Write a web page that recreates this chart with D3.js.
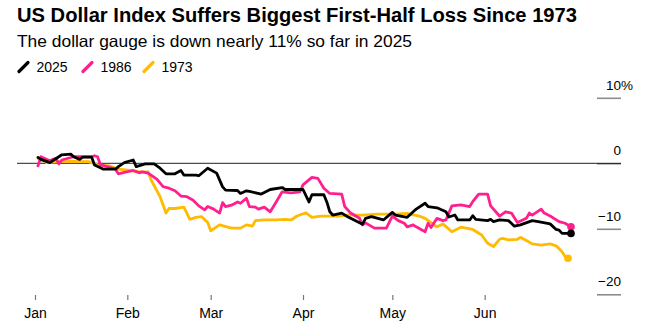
<!DOCTYPE html>
<html>
<head>
<meta charset="utf-8">
<script src="https://cdn.jsdelivr.net/npm/d3@7"></script>
<style>
  html, body { margin: 0; padding: 0; background: #fff; }
  svg { display: block; font-family: "Liberation Sans", Arial, Helvetica, sans-serif; }
</style>
</head>
<body>
<svg id="chart" width="650" height="335"></svg>
<script>
// Dollar index change since the start of the year, % (each year mapped onto the 2025 calendar)
const dates2025 = ["01-02","01-03","01-06","01-09","01-10","01-13","01-14","01-16","01-17","01-20","01-21","01-24","01-28","01-29","01-31","02-03","02-04","02-07","02-10","02-12","02-14","02-17","02-19","02-20","02-24","02-25","02-28","03-03","03-05","03-06","03-10","03-11","03-13","03-14","03-18","03-21","03-25","03-26","03-28","04-01","04-03","04-04","04-08","04-09","04-10","04-11","04-14","04-16","04-21","04-22","04-24","04-28","05-01","05-02","05-06","05-08","05-09","05-12","05-13","05-16","05-19","05-20","05-22","05-23","05-27","05-28","05-29","06-02","06-03","06-04","06-06","06-09","06-11","06-13","06-17","06-19","06-23","06-25","06-26","06-27","06-30"];
const values2025 = [0.9,0.6,0.1,1.0,1.3,1.4,1.0,0.6,0.95,0.95,-0.25,-0.9,-0.9,-0.5,0.1,0.5,-0.5,-0.1,-0.1,-0.75,-1.6,-1.6,-1.1,-1.8,-1.8,-1.9,-0.75,-1.5,-3.6,-4.1,-4.15,-4.6,-4.2,-4.3,-4.7,-4.0,-3.7,-4.0,-4.0,-4.0,-5.9,-4.8,-4.8,-5.9,-7.4,-7.9,-7.6,-8.15,-9.3,-8.4,-8.15,-8.65,-7.5,-7.9,-8.25,-7.4,-7.0,-6.1,-6.6,-6.8,-7.4,-8.2,-7.9,-8.65,-8.65,-8.0,-8.55,-8.75,-8.55,-8.9,-8.65,-8.75,-9.6,-9.4,-8.75,-8.9,-9.25,-10.1,-10.2,-10.7,-10.7];

const dates1986 = ["01-02","01-03","01-06","01-08","01-09","01-10","01-14","01-17","01-20","01-21","01-22","01-23","01-26","01-28","01-29","01-31","02-03","02-05","02-06","02-08","02-11","02-13","02-15","02-17","02-19","02-21","02-23","02-25","02-27","02-28","03-02","03-04","03-05","03-06","03-08","03-10","03-11","03-13","03-14","03-16","03-17","03-19","03-21","03-23","03-25","03-28","03-31","04-01","04-04","04-06","04-08","04-10","04-14","04-15","04-17","04-20","04-21","04-22","04-25","04-29","05-01","05-03","05-05","05-06","05-08","05-09","05-12","05-13","05-14","05-16","05-18","05-19","05-21","05-24","05-27","05-28","05-30","06-02","06-03","06-06","06-08","06-10","06-12","06-15","06-16","06-17","06-20","06-21","06-23","06-26","06-28","06-30"];
const values1986 = [-0.4,1.0,0.4,0.75,-0.1,0.5,1.0,1.0,1.0,1.15,1.0,-0.25,-0.6,-0.9,-1.6,-1.4,-1.1,-1.45,-1.3,-1.5,-2.45,-3.55,-3.8,-4.2,-5.0,-5.1,-5.6,-6.5,-7.1,-6.6,-7.0,-7.6,-6.0,-6.6,-6.4,-5.9,-6.1,-5.35,-6.6,-6.7,-7.0,-6.7,-7.4,-5.9,-4.35,-4.5,-4.35,-3.3,-2.15,-2.3,-3.8,-4.6,-4.7,-6.6,-7.6,-8.4,-9.4,-9.1,-9.9,-9.9,-8.05,-8.75,-9.15,-9.7,-9.4,-9.7,-10.45,-9.15,-9.8,-8.4,-8.75,-8.65,-6.5,-6.35,-6.6,-5.85,-4.7,-4.7,-6.5,-8.05,-7.4,-7.6,-9.05,-8.4,-7.6,-7.9,-7.0,-7.6,-8.05,-8.9,-9.15,-9.7];

const dates1973 = ["01-02","01-05","01-09","01-14","01-19","01-22","01-26","01-29","02-02","02-05","02-08","02-09","02-12","02-14","02-15","02-17","02-20","02-22","02-24","02-26","02-28","03-01","03-04","03-08","03-11","03-13","03-15","03-16","03-19","03-23","03-26","03-28","03-30","04-02","04-04","04-07","04-13","04-16","04-21","04-26","05-02","05-06","05-10","05-12","05-14","05-16","05-18","05-21","05-24","05-28","05-31","06-02","06-04","06-06","06-07","06-09","06-12","06-13","06-15","06-17","06-20","06-23","06-25","06-27","06-28","06-29"];
const values1973 = [0.75,0.1,0.25,0.3,0.25,-0.25,-0.4,-0.9,-1.1,-1.3,-1.3,-2.55,-5.1,-7.6,-6.9,-6.9,-6.7,-8.55,-8.25,-8.15,-9.05,-10.3,-9.4,-9.9,-9.9,-9.4,-9.6,-8.75,-8.65,-8.65,-8.55,-8.65,-8.05,-7.55,-8.25,-8.05,-8.05,-7.9,-7.9,-7.75,-7.75,-7.65,-8.05,-8.4,-9.05,-9.7,-9.25,-10.45,-9.75,-10.1,-10.95,-12.2,-12.7,-11.6,-11.45,-11.7,-11.6,-11.3,-11.8,-12.3,-12.5,-12.3,-12.6,-13.5,-14.25,-14.5];

const seriesNames = ["2025", "1986", "1973"];
const seriesColors = ["#000000", "#ff1f8f", "#ffbb00"];
const yTicks = [10, 0, -10, -20];

const title = "US Dollar Index Suffers Biggest First-Half Loss Since 1973";
const subtitle = "The dollar gauge is down nearly 11% so far in 2025";

const parse = d3.utcParse("%Y-%m-%d");
const toPoints = (dates, values) => dates.map((d, i) => ({ date: parse("2025-" + d), value: values[i] }));
const series = [
  { name: seriesNames[0], color: seriesColors[0], points: toPoints(dates2025, values2025) },
  { name: seriesNames[1], color: seriesColors[1], points: toPoints(dates1986, values1986) },
  { name: seriesNames[2], color: seriesColors[2], points: toPoints(dates1973, values1973) }
];

const svg = d3.select("#chart");
svg.append("rect").attr("width", 650).attr("height", 335).attr("fill", "#fff");

// Headline block
svg.append("text").attr("x", 17).attr("y", 22)
  .attr("font-size", 19.5).attr("font-weight", 700).attr("fill", "#000")
  .attr("textLength", 560).attr("lengthAdjust", "spacingAndGlyphs")
  .text(title);
svg.append("text").attr("x", 17).attr("y", 47)
  .attr("font-size", 16.5).attr("fill", "#000")
  .attr("textLength", 395).attr("lengthAdjust", "spacingAndGlyphs")
  .text(subtitle);

// Legend with slanted swatches
const legendX = [18, 82, 143];
const legend = svg.append("g");
series.forEach((s, i) => {
  const g = legend.append("g").attr("transform", `translate(${legendX[i]},0)`);
  g.append("line").attr("x1", 1).attr("y1", 71.5).attr("x2", 10).attr("y2", 62.5)
    .attr("stroke", s.color).attr("stroke-width", 3.2).attr("stroke-linecap", "round");
  g.append("text").attr("x", 18.5).attr("y", 72).attr("font-size", 14).attr("fill", "#000").text(s.name);
});

// Scales
const x = d3.scaleUtc()
  .domain([parse("2025-01-01"), parse("2025-06-30")])
  .range([35, 571]);
const y = d3.scaleLinear().domain([-20, 10]).range([294.3, 97.8]);

// Right-hand value axis: short grey rules with labels above them
const yAxis = d3.axisRight(y).tickValues(yTicks).tickSize(-24).tickFormat(d3.format("d"));
const yg = svg.append("g").attr("transform", "translate(621,0)").call(yAxis);
yg.select(".domain").remove();
yg.selectAll(".tick line").attr("stroke", d => d === 0 ? "#222" : "#8c8c8c").attr("stroke-width", d => d === 0 ? 1 : 1.6);
yg.selectAll(".tick text")
  .attr("x", 0).attr("dy", -8.5).attr("text-anchor", "end")
  .attr("font-size", 13.5).attr("font-family", "Liberation Sans, Arial, sans-serif").attr("fill", "#000");
yg.selectAll(".tick").filter(d => d === yTicks[0]).append("text")
  .attr("x", 0).attr("y", 0).attr("dy", -8.5).attr("text-anchor", "start")
  .attr("font-size", 13.5).attr("font-family", "Liberation Sans, Arial, sans-serif").attr("fill", "#000")
  .text("%");

// Zero baseline across the plot
svg.append("line")
  .attr("x1", 17).attr("x2", 621).attr("y1", y(0)).attr("y2", y(0))
  .attr("stroke", "#222").attr("stroke-width", 1);

// Month axis
const xAxis = d3.axisBottom(x).ticks(d3.utcMonth.every(1)).tickSize(5).tickPadding(8).tickFormat(d3.utcFormat("%b"));
const xg = svg.append("g").attr("transform", "translate(0,295)").call(xAxis);
xg.select(".domain").remove();
xg.selectAll(".tick line").attr("stroke", "#777").attr("stroke-width", 1.2);
xg.selectAll(".tick text").attr("font-size", 14).attr("font-family", "Liberation Sans, Arial, sans-serif").attr("fill", "#000");

// Series lines, 1973 at the back and 2025 on top
const line = d3.line().x(d => x(d.date)).y(d => y(d.value));
const drawOrder = [series[2], series[1], series[0]];
drawOrder.forEach(s => {
  svg.append("path").datum(s.points)
    .attr("d", line)
    .attr("fill", "none").attr("stroke", s.color)
    .attr("stroke-width", 2.8).attr("stroke-linejoin", "round").attr("stroke-linecap", "round");
  const last = s.points[s.points.length - 1];
  svg.append("circle").attr("cx", x(last.date)).attr("cy", y(last.value)).attr("r", 3.8).attr("fill", s.color);
});
</script>
</body>
</html>
